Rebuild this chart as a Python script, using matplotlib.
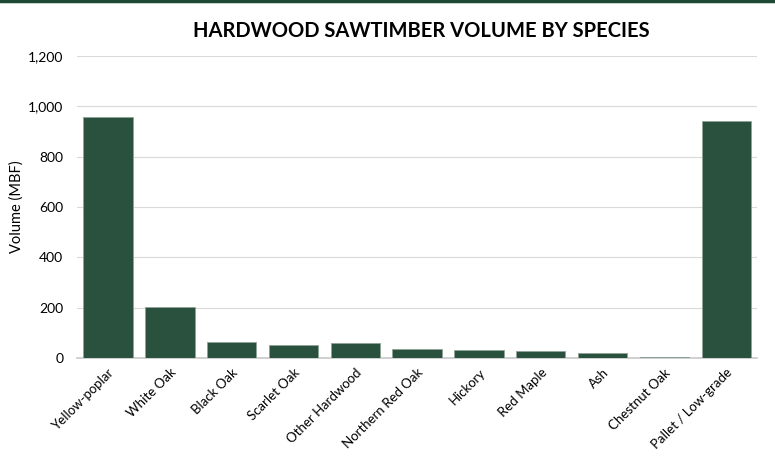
import matplotlib.pyplot as plt
from matplotlib.ticker import FuncFormatter

species = ['Yellow-poplar', 'White Oak', 'Black Oak', 'Scarlet Oak', 'Other Hardwood',
           'Northern Red Oak', 'Hickory', 'Red Maple', 'Ash', 'Chestnut Oak',
           'Pallet / Low-grade']
volume = [957, 203, 64, 52, 58, 37, 33, 29, 20, 5, 942]
yticks = [0, 200, 400, 600, 800, 1000, 1200]

plt.rcParams['font.family'] = ['Lato', 'DejaVu Sans']

fig = plt.figure(figsize=(7.75, 4.72), dpi=100)
ax = fig.add_axes([0.0994, 0.2415, 0.8776, 0.6399])

x = range(len(species))
ax.bar(x, volume, width=0.8, color='#29513d', edgecolor='#8fa397', linewidth=0.6, zorder=3)

ax.set_xlim(-0.5, len(species) - 0.5)
ax.set_ylim(0, 1200)
ax.set_yticks(yticks)
ax.yaxis.set_major_formatter(FuncFormatter(lambda v, p: f'{int(v):,}'))
ax.set_xticks(list(x))
ax.set_xticklabels(species, rotation=45, ha='right', rotation_mode='anchor', fontsize=9.5)
ax.tick_params(axis='y', labelsize=10, length=0, pad=10)
ax.tick_params(axis='x', length=0, pad=6)

ax.grid(axis='y', color='#d9d9d9', linewidth=0.8, zorder=0)
for s in ['top', 'right', 'left']:
    ax.spines[s].set_visible(False)
ax.spines['bottom'].set_color('#c8c8c8')
ax.spines['bottom'].set_linewidth(1.2)

ax.set_ylabel('Volume (MBF)', fontsize=10.5, labelpad=3)
fig.text(0.544, 0.935, 'HARDWOOD SAWTIMBER VOLUME BY SPECIES', ha='center', va='center',
         fontsize=14.5, fontweight='bold')

# thin dark border line at the top
fig.add_artist(plt.Line2D([0, 1], [0.997, 0.997], color='#1e4a35', linewidth=2.5))

fig.savefig('out.png', dpi=100)
